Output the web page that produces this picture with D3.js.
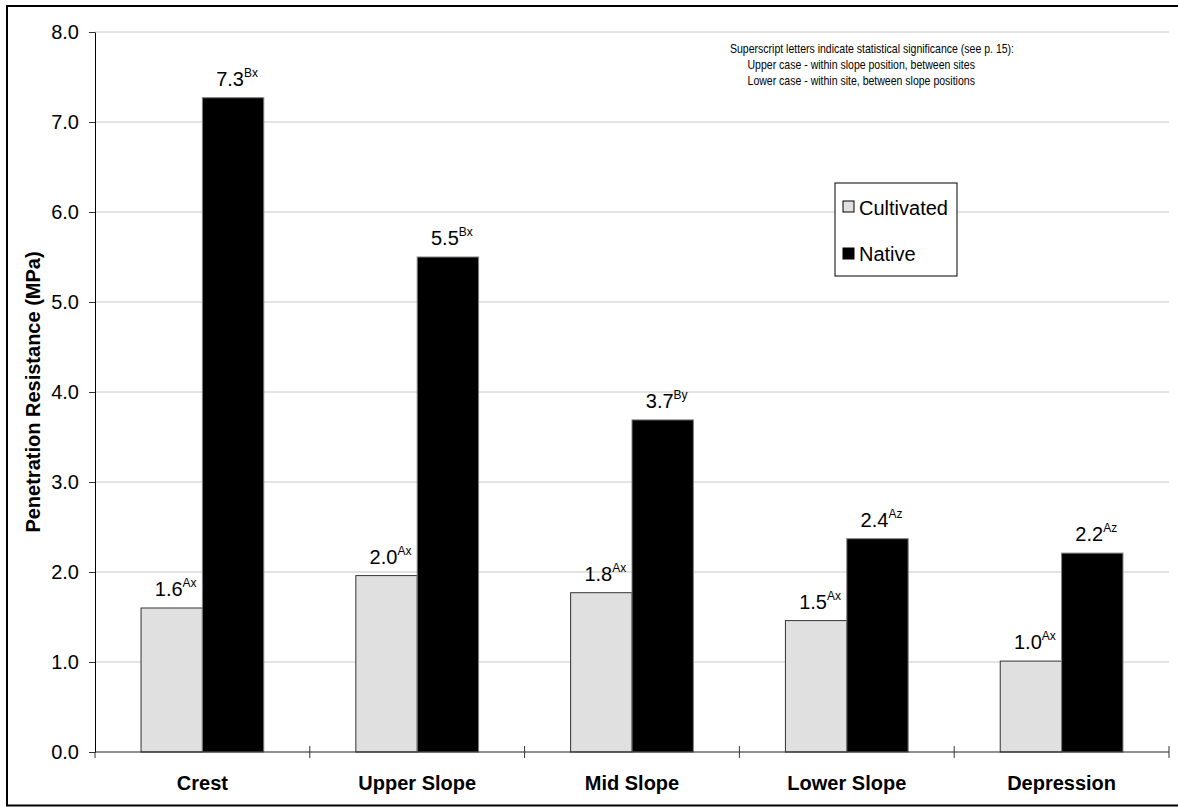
<!DOCTYPE html>
<html>
<head>
<meta charset="utf-8">
<script src="https://cdn.jsdelivr.net/npm/d3@7"></script>
<style>
  body { margin: 0; background: #fff; }
  svg { display: block; font-family: "Liberation Sans", Arial, sans-serif; }
</style>
</head>
<body>
<script>
// chart data
var categories = ["Crest", "Upper Slope", "Mid Slope", "Lower Slope", "Depression"];
var series = ["Cultivated", "Native"];
var cultivated = [1.60, 1.96, 1.77, 1.46, 1.01];
var native = [7.27, 5.50, 3.69, 2.37, 2.21];
var cultivatedSig = ["Ax", "Ax", "Ax", "Ax", "Ax"];
var nativeSig = ["Bx", "Bx", "By", "Az", "Az"];
var yTicks = [0, 1, 2, 3, 4, 5, 6, 7, 8];
var noteLines = [
  "Superscript letters indicate statistical significance (see p. 15):",
  "      Upper case - within slope position, between sites",
  "      Lower case - within site, between slope positions"
];

var W = 1178, H = 808;
var margin = {top: 32, right: 9, bottom: 56, left: 95};
var fills = {Cultivated: "#e0e0e0", Native: "#000000"};
var strokes = {Cultivated: "#333333", Native: "#808080"};

var svg = d3.select("body").append("svg")
    .attr("width", W).attr("height", H);

// outer frame (right edge is cut off in the original)
svg.append("path")
    .attr("d", "M" + W + ",6H7V805.5H" + W)
    .attr("fill", "none").attr("stroke", "#000").attr("stroke-width", 2);

var x = d3.scaleBand()
    .domain(categories)
    .range([margin.left, W - margin.right]);

var y = d3.scaleLinear()
    .domain([0, 8])
    .range([H - margin.bottom, margin.top]);

var barW = x.bandwidth() / 3.5;
var inner = d3.scaleBand().domain(series)
    .range([0, barW * 2]);

// gridlines
svg.append("g").selectAll("line")
  .data(yTicks.slice(1))
  .enter().append("line")
    .attr("x1", margin.left).attr("x2", W - margin.right)
    .attr("y1", function(d) { return y(d); })
    .attr("y2", function(d) { return y(d); })
    .attr("stroke", "#c8c8c8").attr("stroke-width", 1);

// y axis
var yAxis = svg.append("g")
    .attr("transform", "translate(" + margin.left + ",0)")
    .call(d3.axisLeft(y).tickValues(yTicks).tickFormat(d3.format(".1f"))
      .tickSize(6).tickPadding(10).tickSizeOuter(0));
yAxis.select(".domain").attr("stroke", "#000");
yAxis.selectAll(".tick line").attr("stroke", "#333");
yAxis.selectAll("text").attr("font-size", 20).attr("fill", "#000")
    .attr("font-family", "Liberation Sans, Arial, sans-serif");

// rows for the bars
var rows = [];
categories.forEach(function(c, i) {
  rows.push({cat: c, s: "Cultivated", v: cultivated[i], sig: cultivatedSig[i]});
  rows.push({cat: c, s: "Native", v: native[i], sig: nativeSig[i]});
});

function barX(d) {
  return x(d.cat) + x.bandwidth() / 2 - barW + inner(d.s);
}

svg.append("g").selectAll("rect")
  .data(rows)
  .enter().append("rect")
    .attr("x", barX)
    .attr("y", function(d) { return y(d.v); })
    .attr("width", barW)
    .attr("height", function(d) { return y(0) - y(d.v); })
    .attr("fill", function(d) { return fills[d.s]; })
    .attr("stroke", function(d) { return strokes[d.s]; })
    .attr("stroke-width", 1);

// value labels with superscripts
var lbl = svg.append("g").selectAll("text")
  .data(rows)
  .enter().append("text")
    .attr("x", function(d) { return barX(d) + barW / 2 + 4; })
    .attr("y", function(d) { return y(d.v) - 12; })
    .attr("text-anchor", "middle")
    .attr("fill", "#000");
lbl.append("tspan")
    .attr("font-size", 20)
    .text(function(d) { return d3.format(".1f")(d.v); });
lbl.append("tspan")
    .attr("font-size", 12)
    .attr("dy", -9)
    .text(function(d) { return d.sig; });

// x axis
svg.append("line")
    .attr("x1", margin.left).attr("x2", W - margin.right)
    .attr("y1", y(0)).attr("y2", y(0))
    .attr("stroke", "#222").attr("stroke-width", 1.2);
var bounds = categories.map(function(c) { return x(c); }).concat([W - margin.right]);
svg.append("g").selectAll("line")
  .data(bounds)
  .enter().append("line")
    .attr("x1", function(d) { return d; }).attr("x2", function(d) { return d; })
    .attr("y1", function(d, i) { return i === 0 ? y(0) : y(0) - 6; })
    .attr("y2", y(0) + 6)
    .attr("stroke", "#333");
svg.append("g").selectAll("text")
  .data(categories)
  .enter().append("text")
    .attr("x", function(d) { return x(d) + x.bandwidth() / 2; })
    .attr("y", 790)
    .attr("text-anchor", "middle")
    .attr("font-size", 20).attr("font-weight", "bold")
    .text(function(d) { return d; });

// y axis title
svg.append("text")
    .attr("transform", "translate(39.5," + ((y(0) + y(8)) / 2) + ") rotate(-90)")
    .attr("text-anchor", "middle")
    .attr("font-size", 20).attr("font-weight", "bold")
    .text("Penetration Resistance (MPa)");

// legend
var lg = svg.append("g").attr("transform", "translate(835,183)");
lg.append("rect")
    .attr("width", 122).attr("height", 93)
    .attr("fill", "#fff").attr("stroke", "#000");
lg.selectAll("rect.sw")
  .data(series)
  .enter().append("rect")
    .attr("class", "sw")
    .attr("x", 8).attr("y", function(d, i) { return 18 + i * 47; })
    .attr("width", 11).attr("height", 11)
    .attr("fill", function(d) { return fills[d]; })
    .attr("stroke", "#000");
lg.selectAll("text")
  .data(series)
  .enter().append("text")
    .attr("x", 24).attr("y", function(d, i) { return 32 + i * 46; })
    .attr("font-size", 20)
    .text(function(d) { return d; });

// note (text is a bit condensed in the original)
svg.append("g")
    .attr("transform", "translate(730,0) scale(0.81,1)")
  .selectAll("text")
  .data(noteLines)
  .enter().append("text")
    .attr("x", 0).attr("y", function(d, i) { return 53 + i * 16; })
    .attr("font-size", 13)
    .attr("xml:space", "preserve")
    .style("white-space", "pre")
    .text(function(d) { return d; });
</script>
</body>
</html>
